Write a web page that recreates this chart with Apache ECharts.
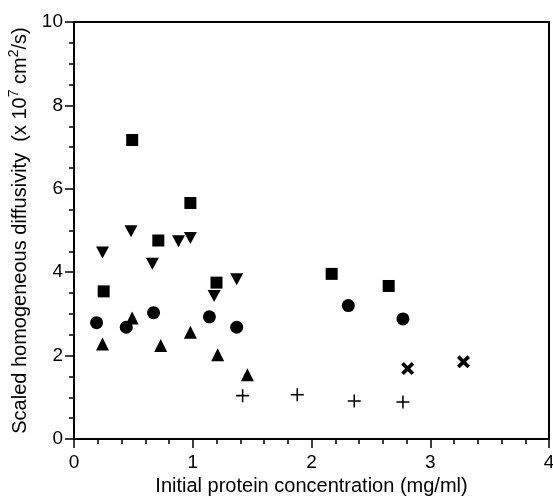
<!DOCTYPE html>
<html>
<head>
<meta charset="utf-8">
<script src="https://cdn.jsdelivr.net/npm/echarts@6/dist/echarts.min.js"></script>
<style>
  html, body { margin: 0; padding: 0; background: #fff; }
  #main { width: 553px; height: 496px; }
</style>
</head>
<body>
<div id="main"></div>
<script>
// 数据 (x = mg/ml, y = x10^7 cm2/s)
const squares = [[0.25, 3.54], [0.49, 7.17], [0.71, 4.76], [0.98, 5.66], [1.20, 3.75], [2.17, 3.96], [2.65, 3.67]];
const downTriangles = [[0.24, 4.47], [0.48, 4.98], [0.66, 4.20], [0.88, 4.74], [0.98, 4.82], [1.18, 3.43], [1.37, 3.83]];
const circles = [[0.19, 2.79], [0.44, 2.68], [0.67, 3.03], [1.14, 2.93], [1.37, 2.68], [2.31, 3.20], [2.77, 2.88]];
const upTriangles = [[0.24, 2.28], [0.49, 2.90], [0.73, 2.24], [0.98, 2.56], [1.21, 2.02], [1.46, 1.54]];
const pluses = [[1.42, 1.04], [1.88, 1.06], [2.36, 0.91], [2.77, 0.89]];
const crosses = [[2.81, 1.69], [3.28, 1.85]];
const xTicks = [0, 1, 2, 3, 4];
const yTicks = [0, 2, 4, 6, 8, 10];

const font = 'Liberation Sans';
const chart = echarts.init(document.getElementById('main'));

function scatter(data, symbol, size) {
  return {
    type: 'scatter',
    data: data,
    symbol: symbol,
    symbolSize: size,
    itemStyle: { color: '#000', opacity: 1 },
    animation: false
  };
}

chart.setOption({
  animation: false,
  grid: {
    left: 74, right: 4, top: 22, bottom: 57,
    show: true, borderColor: '#000', borderWidth: 2,
    containLabel: false,
    outerBoundsMode: 'none'
  },
  xAxis: {
    type: 'value',
    min: xTicks[0], max: xTicks[xTicks.length - 1], interval: 1,
    name: 'Initial protein concentration (mg/ml)',
    nameLocation: 'middle',
    nameGap: 33,
    nameTextStyle: { fontFamily: font, fontSize: 20, color: '#000' },
    axisLine: { lineStyle: { color: '#000', width: 2 } },
    axisTick: { length: 9, lineStyle: { color: '#000', width: 1.5 } },
    minorTick: { show: true, splitNumber: 5, length: 5, lineStyle: { color: '#000', width: 1.5 } },
    splitLine: { show: false },
    axisLabel: { fontFamily: font, fontSize: 19, color: '#000', margin: 14 }
  },
  yAxis: {
    type: 'value',
    min: yTicks[0], max: yTicks[yTicks.length - 1], interval: 2,
    name: '{a|Scaled homogeneous diffusivity  (x 10}{s|7}{a| cm}{s|2}{a|/s)}',
    nameLocation: 'middle',
    nameGap: 23,
    nameRotate: 90,
    nameTextStyle: {
      fontFamily: font, fontSize: 20, color: '#000',
      rich: {
        a: { fontFamily: font, fontSize: 20, color: '#000', lineHeight: 24, verticalAlign: 'bottom' },
        s: { fontFamily: font, fontSize: 14, color: '#000', lineHeight: 24, verticalAlign: 'top' }
      }
    },
    axisLine: { lineStyle: { color: '#000', width: 2 } },
    axisTick: { length: 9, lineStyle: { color: '#000', width: 1.5 } },
    minorTick: { show: true, splitNumber: 4, length: 5, lineStyle: { color: '#000', width: 1.5 } },
    splitLine: { show: false },
    axisLabel: { fontFamily: font, fontSize: 19, color: '#000', margin: 11 }
  },
  series: [
    scatter(squares, 'rect', 12),
    scatter(downTriangles, 'path://M0,0H12L6,11Z', [13, 12]),
    scatter(circles, 'circle', 13),
    scatter(upTriangles, 'triangle', 13),
    scatter(pluses, 'path://M0,5.3H12V6.7H0Z M5.3,0H6.7V12H5.3Z', 13),
    scatter(crosses, 'path://M0,2.4L2.4,0L6,3.6L9.6,0L12,2.4L8.4,6L12,9.6L9.6,12L6,8.4L2.4,12L0,9.6L3.6,6Z', 13)
  ]
});
</script>
</body>
</html>
